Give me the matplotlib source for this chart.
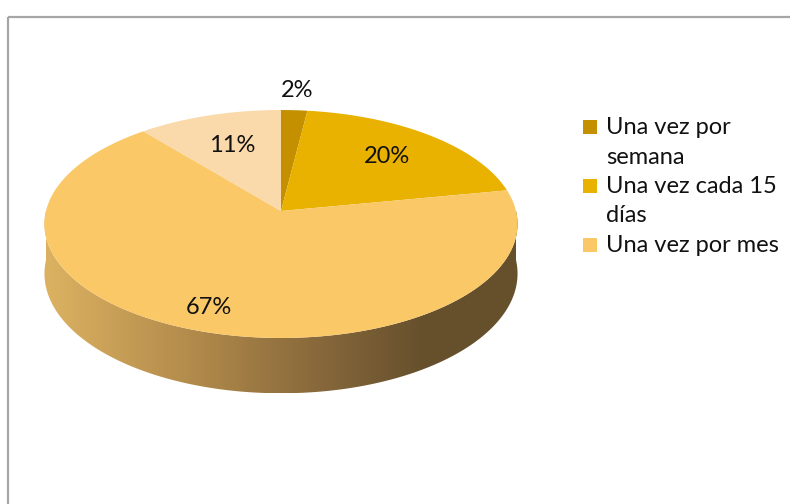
import numpy as np
import matplotlib
matplotlib.use('Agg')
import matplotlib.pyplot as plt
from matplotlib.patches import Polygon, Rectangle
from matplotlib.colors import LinearSegmentedColormap

# frecuencia de compra (%)
categories = ['Una vez por\nsemana', 'Una vez cada 15\ndías', 'Una vez por mes', 'Otro']
values = [2, 20, 67, 11]
colors = ['#c49000', '#e9b100', '#fac866', '#fad9aa']
in_legend = [True, True, True, False]

plt.rcParams['font.family'] = ['Lato', 'DejaVu Sans']

fig = plt.figure(figsize=(7.9, 5.04), dpi=100)
ax = fig.add_axes([0, 0, 1, 1])
ax.set_xlim(0, 790)
ax.set_ylim(504, 0)
ax.axis('off')

# chart area border
ax.add_patch(Rectangle((7.5, 16.5), 800, 500, fill=False, ec='#a6a6a6', lw=1.6))

cx, cy = 281, 211
A, B, k = 235, 112.5, 0.114
depth = 49


def proj(t, r=1.0):
    # t: clockwise angle from 12 o'clock (radians), r: radius fraction
    u = r * np.sin(t)
    v = -r * np.cos(t)
    s = 1.0 / (1 - k * v)
    return cx + A * u * s, cy + B * v * s, s


# side wall (front half)
t = np.linspace(np.pi / 2, 3 * np.pi / 2, 200)
x, y, s = proj(t)
xs = np.concatenate([x, x[::-1]])
ys = np.concatenate([y, (y + depth * s)[::-1]])
wall = Polygon(np.column_stack([xs, ys]), closed=True, fc='none', ec='none')
ax.add_patch(wall)
cmap = LinearSegmentedColormap.from_list('wall', [
    (0.0, '#dcb262'), (0.3, '#b48c4c'), (0.6, '#84663a'), (0.8, '#66502c'), (1.0, '#66502c')])
grad = np.linspace(0, 1, 256).reshape(1, -1)
im = ax.imshow(grad, cmap=cmap, extent=(x.min(), x.max(), ys.max(), ys.min()),
               aspect='auto', zorder=1)
im.set_clip_path(wall)

# top face
total = float(sum(values))
start = 0.0
mids = []
for val, col in zip(values, colors):
    span = 2 * np.pi * val / total
    tt = np.linspace(start, start + span, max(int(val * 4), 4))
    px, py, _ = proj(tt)
    pts = np.vstack([[cx, cy], np.column_stack([px, py])])
    ax.add_patch(Polygon(pts, closed=True, fc=col, ec='none', zorder=2))
    mids.append(start + span / 2)
    start += span

# data labels
label_r = [1.22, 0.7, 0.83, 0.66]
for val, m, r in zip(values, mids, label_r):
    lx, ly, _ = proj(m, r)
    ax.text(lx, ly, f'{val}%', ha='center', va='center', fontsize=17,
            color='#111111', zorder=3)

# legend, one text per line so the marker sits on the first line
base = 134
step = 29.5
for lab, col, show in zip(categories, colors, in_legend):
    if not show:
        continue
    ax.add_patch(Rectangle((583, base - 14), 14, 14, fc=col, ec='none'))
    for line in lab.split('\n'):
        ax.text(606, base, line, ha='left', va='baseline', fontsize=17,
                color='#111111')
        base += step

fig.savefig('out.png', dpi=100, facecolor='white')
